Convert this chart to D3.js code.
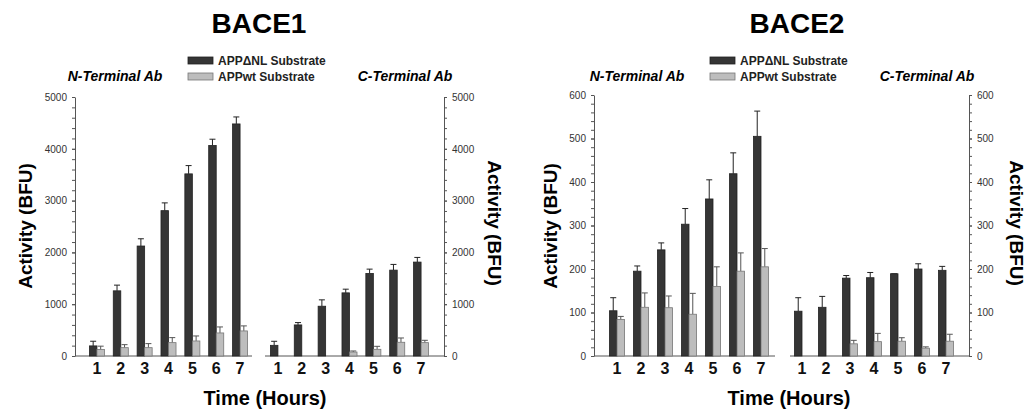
<!DOCTYPE html>
<html>
<head>
<meta charset="utf-8">
<script src="https://cdn.jsdelivr.net/npm/d3@7"></script>
<style>
  body { margin: 0; background: #fff; }
  text { font-family: "Liberation Sans", Arial, sans-serif; }
</style>
</head>
<body>
<svg id="chart" width="1026" height="416"></svg>
<script>
// hours on the x axis
const hours = [1, 2, 3, 4, 5, 6, 7];
const seriesNames = ['APP\u0394NL Substrate', 'APPwt Substrate'];

// BACE1, N-terminal antibody
const bace1NDnl = [195, 1258, 2123, 2806, 3516, 4065, 4480];
const bace1NDnlSd = [90, 110, 140, 150, 160, 120, 135];
const bace1NWt = [125, 161, 161, 258, 290, 445, 484];
const bace1NWtSd = [65, 58, 78, 97, 97, 116, 97];
// BACE1, C-terminal antibody
const bace1CDnl = [206, 600, 961, 1219, 1594, 1658, 1813];
const bace1CDnlSd = [78, 45, 123, 71, 83, 110, 90];
const bace1CWt = [0, 0, 0, 77, 129, 265, 258];
const bace1CWtSd = [0, 0, 0, 20, 58, 83, 45];

// BACE2, N-terminal antibody
const bace2NDnl = [104, 195, 244, 303, 361, 419, 505];
const bace2NDnlSd = [30, 12, 16, 36, 44, 48, 58];
const bace2NWt = [84, 112, 111, 96, 160, 195, 205];
const bace2NWtSd = [7, 33, 27, 48, 45, 42, 42];
// BACE2, C-terminal antibody
const bace2CDnl = [103, 112, 179, 180, 189, 200, 197];
const bace2CDnlSd = [31, 25, 6, 12, 0, 12, 9];
const bace2CWt = [0, 0, 28, 33, 34, 18, 34];
const bace2CWtSd = [0, 0, 8, 19, 8, 3, 16];

const bace1Ticks = [0, 1000, 2000, 3000, 4000, 5000];
const bace2Ticks = [0, 100, 200, 300, 400, 500, 600];

const svg = d3.select('#chart');
const darkFill = '#353535', lightFill = '#bdbdbd';
const axisColor = '#555';

function drawChart(cfg) {
  const g = svg.append('g');
  const y = d3.scaleLinear().domain([0, cfg.max]).range([356, cfg.yTop]);

  // title
  g.append('text').attr('x', cfg.titleX).attr('y', 33)
    .attr('text-anchor', 'middle').attr('font-size', 28).attr('font-weight', 'bold')
    .text(cfg.title);

  // legend
  const leg = g.append('g').attr('transform', 'translate(' + cfg.legendX + ',57)');
  seriesNames.forEach((name, i) => {
    leg.append('rect').attr('x', 0).attr('y', i * 16).attr('width', 25).attr('height', 7)
      .attr('fill', i ? lightFill : darkFill).attr('stroke', i ? '#777' : '#222').attr('stroke-width', 0.8);
    leg.append('text').attr('x', 30).attr('y', i * 16 + 8)
      .attr('font-size', 12).attr('font-weight', 'bold').attr('fill', '#222')
      .text(name);
  });

  // panel headers
  [['N-Terminal Ab', cfg.nLabelX], ['C-Terminal Ab', cfg.cLabelX]].forEach(d => {
    g.append('text').attr('x', d[1]).attr('y', 81).attr('text-anchor', 'middle')
      .attr('font-size', 14).attr('font-weight', 'bold').attr('font-style', 'italic')
      .text(d[0]);
  });

  // y axes, left and right, with minor ticks
  const minor = d3.range(0, cfg.max + 1e-9, cfg.max / (cfg.majors.length - 1) / 5);
  const axes = [[d3.axisLeft, cfg.axisL], [d3.axisRight, cfg.axisR]];
  axes.forEach(([fn, ax]) => {
    g.append('g').attr('transform', 'translate(' + ax + ',0)')
      .call(fn(y).tickValues(minor).tickSize(3).tickFormat('').tickSizeOuter(0))
      .call(s => s.selectAll('line, path').attr('stroke', axisColor));
    g.append('g').attr('transform', 'translate(' + ax + ',0)')
      .call(fn(y).tickValues(cfg.majors).tickSize(3).tickPadding(5).tickFormat(d3.format('d')))
      .call(s => s.select('.domain').remove())
      .call(s => s.selectAll('line').attr('stroke', axisColor))
      .call(s => s.selectAll('text').attr('font-size', 10).attr('fill', '#333')
        .attr('font-family', '"Liberation Sans", Arial, sans-serif'));
  });

  // y axis titles
  g.append('text').attr('transform', 'translate(' + cfg.yLabelL + ',226) rotate(-90)')
    .attr('text-anchor', 'middle').attr('dy', '0.35em')
    .attr('font-size', 19).attr('font-weight', 'bold').text('Activity (BFU)');
  g.append('text').attr('transform', 'translate(' + cfg.yLabelR + ',223) rotate(90)')
    .attr('text-anchor', 'middle').attr('dy', '0.35em')
    .attr('font-size', 19).attr('font-weight', 'bold').text('Activity (BFU)');

  // x axis title
  g.append('text').attr('x', cfg.timeX).attr('y', 405).attr('text-anchor', 'middle')
    .attr('font-size', 20).attr('font-weight', 'bold').text('Time (Hours)');

  cfg.panels.forEach(p => {
    const x = d3.scaleBand().domain(hours).range([p.r0, p.r1])
      .paddingInner(0.37).paddingOuter(0.185);
    const inner = d3.scaleBand().domain([0, 1]).range([0, x.bandwidth()]);

    // baseline
    g.append('line').attr('x1', p.b0).attr('x2', p.b1).attr('y1', y(0)).attr('y2', y(0))
      .attr('stroke', axisColor);

    // hour labels
    g.append('g').attr('transform', 'translate(0,' + y(0) + ')')
      .call(d3.axisBottom(x).tickSize(0).tickPadding(7))
      .call(s => s.select('.domain').remove())
      .call(s => s.selectAll('text').attr('font-size', 16).attr('font-weight', 'bold')
        .attr('fill', '#111').attr('font-family', '"Liberation Sans", Arial, sans-serif'));

    const series = [[p.dnl, p.dnlSd], [p.wt, p.wtSd]];
    series.forEach(([vals, sds], si) => {
      const rows = hours.map((h, i) => ({ h: h, v: vals[i], sd: sds[i] })).filter(d => d.v > 0);
      const sg = g.append('g');
      // error bars (upper only)
      sg.selectAll('.err').data(rows).enter().append('path')
        .attr('d', d => {
          const cx = x(d.h) + inner(si) + inner.bandwidth() / 2;
          const top = y(d.v + d.sd);
          return 'M' + cx + ',' + y(d.v) + 'V' + top + 'M' + (cx - 3) + ',' + top + 'H' + (cx + 3);
        })
        .attr('fill', 'none').attr('stroke', si ? '#555' : '#222').attr('stroke-width', 1);
      sg.selectAll('.bar').data(rows).enter().append('rect')
        .attr('x', d => x(d.h) + inner(si))
        .attr('y', d => y(d.v))
        .attr('width', inner.bandwidth())
        .attr('height', d => y(0) - y(d.v))
        .attr('fill', si ? lightFill : darkFill)
        .attr('stroke', si ? '#777' : '#222').attr('stroke-width', 0.8);
    });
  });
}

drawChart({
  title: 'BACE1', titleX: 259, legendX: 188, nLabelX: 115, cLabelX: 405,
  max: 5000, yTop: 97, majors: bace1Ticks,
  axisL: 75, axisR: 444, yLabelL: 25, yLabelR: 495, timeX: 265,
  panels: [
    { r0: 85, r1: 252, b0: 75, b1: 252, dnl: bace1NDnl, dnlSd: bace1NDnlSd, wt: bace1NWt, wtSd: bace1NWtSd },
    { r0: 266, r1: 433, b0: 265, b1: 444, dnl: bace1CDnl, dnlSd: bace1CDnlSd, wt: bace1CWt, wtSd: bace1CWtSd }
  ]
});

drawChart({
  title: 'BACE2', titleX: 797, legendX: 710, nLabelX: 637, cLabelX: 927,
  max: 600, yTop: 95, majors: bace2Ticks,
  axisL: 594, axisR: 969, yLabelL: 550, yLabelR: 1017, timeX: 789,
  panels: [
    { r0: 605, r1: 773, b0: 594, b1: 775, dnl: bace2NDnl, dnlSd: bace2NDnlSd, wt: bace2NWt, wtSd: bace2NWtSd },
    { r0: 790, r1: 958, b0: 790, b1: 969, dnl: bace2CDnl, dnlSd: bace2CDnlSd, wt: bace2CWt, wtSd: bace2CWtSd }
  ]
});
</script>
</body>
</html>
